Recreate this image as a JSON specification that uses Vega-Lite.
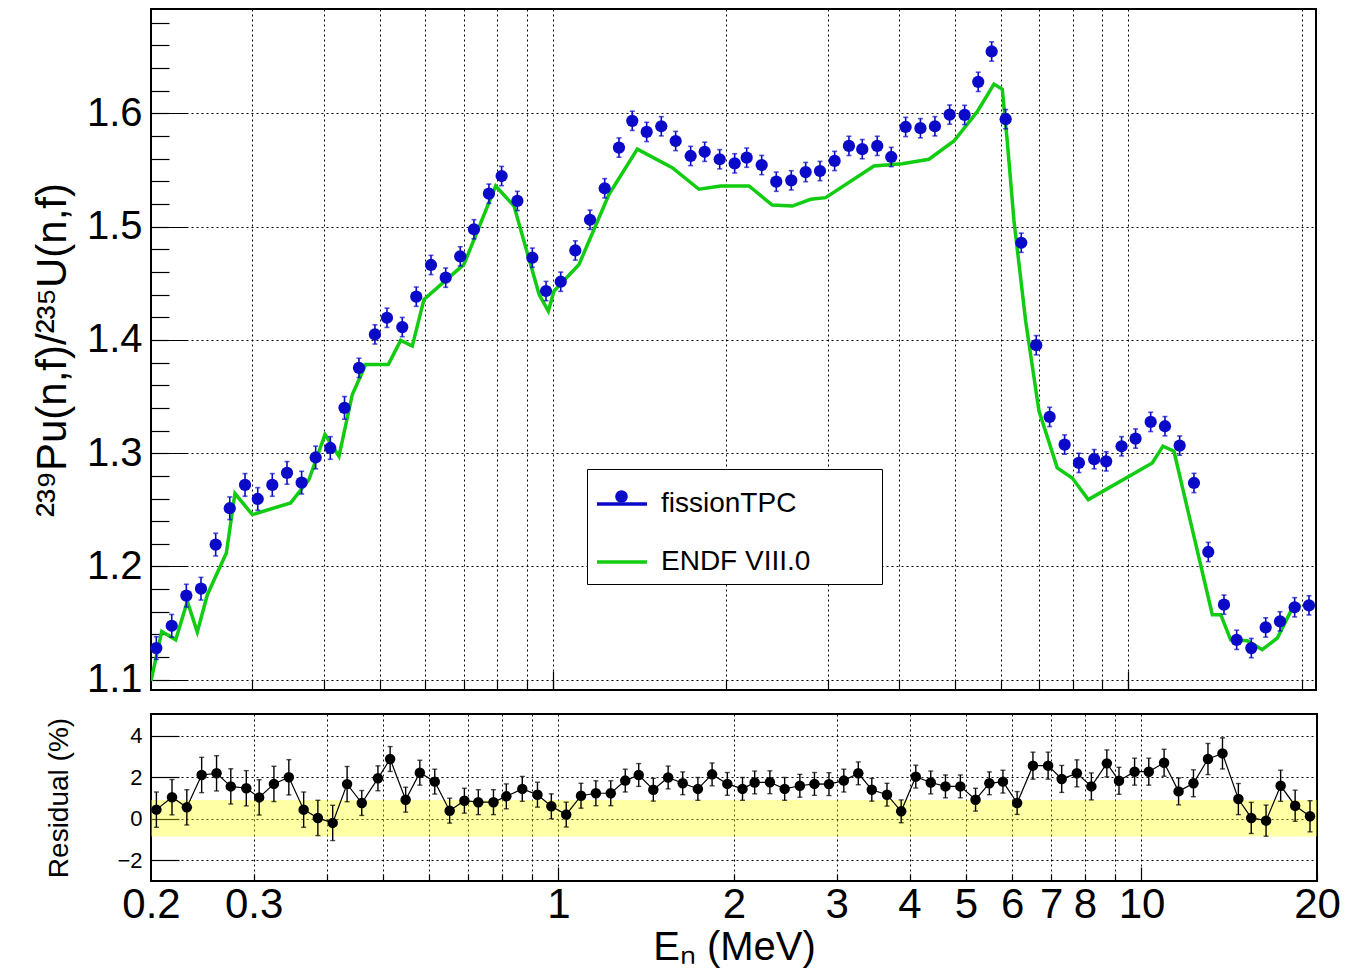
{
  "$schema": "https://vega.github.io/schema/vega-lite/v6.json",
  "background": "white",
  "padding": {"left": 30, "top": 8, "right": 5, "bottom": 0},
  "bounds": "flush",
  "spacing": 24,
  "config": {
    "font": "Liberation Sans",
    "view": {"stroke": "black", "strokeWidth": 2},
    "axis": {"domain": false, "grid": false, "gridColor": "black", "gridDash": [2, 3], "gridOpacity": 1, "gridWidth": 1, "tickColor": "black", "tickWidth": 1.2, "labelColor": "black", "titleColor": "black", "labelFont": "Liberation Sans", "titleFont": "Liberation Sans", "titleFontWeight": "normal", "labelFlush": false, "labelOverlap": false, "labelBound": false}
  },
  "datasets": {
    "tpc": [
      {"E": 0.2043, "R": 1.128, "err": 0.010, "series": "fissionTPC"},
      {"E": 0.2173, "R": 1.1477, "err": 0.010, "series": "fissionTPC"},
      {"E": 0.2304, "R": 1.1743, "err": 0.010, "series": "fissionTPC"},
      {"E": 0.2443, "R": 1.1804, "err": 0.010, "series": "fissionTPC"},
      {"E": 0.2591, "R": 1.2193, "err": 0.010, "series": "fissionTPC"},
      {"E": 0.2741, "R": 1.2514, "err": 0.010, "series": "fissionTPC"},
      {"E": 0.2914, "R": 1.272, "err": 0.010, "series": "fissionTPC"},
      {"E": 0.3066, "R": 1.2596, "err": 0.010, "series": "fissionTPC"},
      {"E": 0.325, "R": 1.272, "err": 0.010, "series": "fissionTPC"},
      {"E": 0.3447, "R": 1.2826, "err": 0.010, "series": "fissionTPC"},
      {"E": 0.3655, "R": 1.274, "err": 0.010, "series": "fissionTPC"},
      {"E": 0.3866, "R": 1.2962, "err": 0.010, "series": "fissionTPC"},
      {"E": 0.4099, "R": 1.3046, "err": 0.010, "series": "fissionTPC"},
      {"E": 0.4339, "R": 1.34, "err": 0.010, "series": "fissionTPC"},
      {"E": 0.4598, "R": 1.3753, "err": 0.0085, "series": "fissionTPC"},
      {"E": 0.4901, "R": 1.4048, "err": 0.0085, "series": "fissionTPC"},
      {"E": 0.5143, "R": 1.4195, "err": 0.0085, "series": "fissionTPC"},
      {"E": 0.5468, "R": 1.4113, "err": 0.0085, "series": "fissionTPC"},
      {"E": 0.5783, "R": 1.4381, "err": 0.0085, "series": "fissionTPC"},
      {"E": 0.6134, "R": 1.4661, "err": 0.0085, "series": "fissionTPC"},
      {"E": 0.6506, "R": 1.4549, "err": 0.0085, "series": "fissionTPC"},
      {"E": 0.6896, "R": 1.4737, "err": 0.0085, "series": "fissionTPC"},
      {"E": 0.7285, "R": 1.4976, "err": 0.0085, "series": "fissionTPC"},
      {"E": 0.7735, "R": 1.529, "err": 0.0085, "series": "fissionTPC"},
      {"E": 0.8138, "R": 1.5446, "err": 0.0085, "series": "fissionTPC"},
      {"E": 0.8667, "R": 1.5226, "err": 0.0085, "series": "fissionTPC"},
      {"E": 0.9203, "R": 1.4725, "err": 0.0085, "series": "fissionTPC"},
      {"E": 0.9721, "R": 1.4431, "err": 0.0085, "series": "fissionTPC"},
      {"E": 1.031, "R": 1.4513, "err": 0.0085, "series": "fissionTPC"},
      {"E": 1.093, "R": 1.4789, "err": 0.0085, "series": "fissionTPC"},
      {"E": 1.1591, "R": 1.506, "err": 0.0085, "series": "fissionTPC"},
      {"E": 1.2293, "R": 1.5338, "err": 0.0085, "series": "fissionTPC"},
      {"E": 1.3017, "R": 1.5697, "err": 0.0085, "series": "fissionTPC"},
      {"E": 1.3728, "R": 1.5933, "err": 0.0085, "series": "fissionTPC"},
      {"E": 1.4543, "R": 1.5835, "err": 0.0085, "series": "fissionTPC"},
      {"E": 1.5419, "R": 1.5885, "err": 0.0085, "series": "fissionTPC"},
      {"E": 1.6333, "R": 1.5755, "err": 0.0085, "series": "fissionTPC"},
      {"E": 1.7342, "R": 1.5623, "err": 0.0085, "series": "fissionTPC"},
      {"E": 1.8342, "R": 1.566, "err": 0.0085, "series": "fissionTPC"},
      {"E": 1.9479, "R": 1.5594, "err": 0.0085, "series": "fissionTPC"},
      {"E": 2.0684, "R": 1.5558, "err": 0.0085, "series": "fissionTPC"},
      {"E": 2.1702, "R": 1.5608, "err": 0.0085, "series": "fissionTPC"},
      {"E": 2.3046, "R": 1.5543, "err": 0.0085, "series": "fissionTPC"},
      {"E": 2.443, "R": 1.5396, "err": 0.0085, "series": "fissionTPC"},
      {"E": 2.5942, "R": 1.5408, "err": 0.0085, "series": "fissionTPC"},
      {"E": 2.748, "R": 1.5481, "err": 0.0085, "series": "fissionTPC"},
      {"E": 2.9102, "R": 1.549, "err": 0.0085, "series": "fissionTPC"},
      {"E": 3.086, "R": 1.5579, "err": 0.0085, "series": "fissionTPC"},
      {"E": 3.2676, "R": 1.5712, "err": 0.0085, "series": "fissionTPC"},
      {"E": 3.4468, "R": 1.5683, "err": 0.0085, "series": "fissionTPC"},
      {"E": 3.6598, "R": 1.5712, "err": 0.0085, "series": "fissionTPC"},
      {"E": 3.8708, "R": 1.5614, "err": 0.0085, "series": "fissionTPC"},
      {"E": 4.1004, "R": 1.5879, "err": 0.0085, "series": "fissionTPC"},
      {"E": 4.3504, "R": 1.5868, "err": 0.0085, "series": "fissionTPC"},
      {"E": 4.6104, "R": 1.5885, "err": 0.0085, "series": "fissionTPC"},
      {"E": 4.8896, "R": 1.5988, "err": 0.0085, "series": "fissionTPC"},
      {"E": 5.1924, "R": 1.5985, "err": 0.0085, "series": "fissionTPC"},
      {"E": 5.483, "R": 1.6277, "err": 0.0085, "series": "fissionTPC"},
      {"E": 5.7854, "R": 1.6545, "err": 0.0085, "series": "fissionTPC"},
      {"E": 6.1188, "R": 1.5948, "err": 0.0085, "series": "fissionTPC"},
      {"E": 6.5132, "R": 1.4857, "err": 0.0085, "series": "fissionTPC"},
      {"E": 6.9156, "R": 1.3953, "err": 0.0085, "series": "fissionTPC"},
      {"E": 7.2968, "R": 1.332, "err": 0.0085, "series": "fissionTPC"},
      {"E": 7.7476, "R": 1.3076, "err": 0.0085, "series": "fissionTPC"},
      {"E": 8.2038, "R": 1.2914, "err": 0.0085, "series": "fissionTPC"},
      {"E": 8.721, "R": 1.2947, "err": 0.0085, "series": "fissionTPC"},
      {"E": 9.1494, "R": 1.2928, "err": 0.0085, "series": "fissionTPC"},
      {"E": 9.731, "R": 1.3061, "err": 0.0085, "series": "fissionTPC"},
      {"E": 10.292, "R": 1.3129, "err": 0.0085, "series": "fissionTPC"},
      {"E": 10.933, "R": 1.3276, "err": 0.0085, "series": "fissionTPC"},
      {"E": 11.577, "R": 1.3238, "err": 0.0085, "series": "fissionTPC"},
      {"E": 12.278, "R": 1.3067, "err": 0.0085, "series": "fissionTPC"},
      {"E": 13.002, "R": 1.2737, "err": 0.0085, "series": "fissionTPC"},
      {"E": 13.769, "R": 1.2128, "err": 0.0085, "series": "fissionTPC"},
      {"E": 14.661, "R": 1.1663, "err": 0.0085, "series": "fissionTPC"},
      {"E": 15.426, "R": 1.1353, "err": 0.0085, "series": "fissionTPC"},
      {"E": 16.355, "R": 1.128, "err": 0.0085, "series": "fissionTPC"},
      {"E": 17.325, "R": 1.1462, "err": 0.0085, "series": "fissionTPC"},
      {"E": 18.346, "R": 1.1516, "err": 0.0085, "series": "fissionTPC"},
      {"E": 19.455, "R": 1.164, "err": 0.0085, "series": "fissionTPC"},
      {"E": 20.602, "R": 1.1657, "err": 0.0085, "series": "fissionTPC"}
    ],
    "endf": [
      {"E": 0.2, "R": 1.099, "series": "ENDF VIII.0"},
      {"E": 0.2088, "R": 1.1427, "series": "ENDF VIII.0"},
      {"E": 0.2208, "R": 1.1353, "series": "ENDF VIII.0"},
      {"E": 0.2313, "R": 1.1693, "series": "ENDF VIII.0"},
      {"E": 0.2407, "R": 1.1421, "series": "ENDF VIII.0"},
      {"E": 0.2506, "R": 1.1751, "series": "ENDF VIII.0"},
      {"E": 0.2704, "R": 1.2119, "series": "ENDF VIII.0"},
      {"E": 0.2799, "R": 1.2644, "series": "ENDF VIII.0"},
      {"E": 0.3, "R": 1.2458, "series": "ENDF VIII.0"},
      {"E": 0.3498, "R": 1.2561, "series": "ENDF VIII.0"},
      {"E": 0.3764, "R": 1.2768, "series": "ENDF VIII.0"},
      {"E": 0.4013, "R": 1.3165, "series": "ENDF VIII.0"},
      {"E": 0.4244, "R": 1.2973, "series": "ENDF VIII.0"},
      {"E": 0.4477, "R": 1.3518, "series": "ENDF VIII.0"},
      {"E": 0.4723, "R": 1.3783, "series": "ENDF VIII.0"},
      {"E": 0.517, "R": 1.3783, "series": "ENDF VIII.0"},
      {"E": 0.5433, "R": 1.3995, "series": "ENDF VIII.0"},
      {"E": 0.5691, "R": 1.3945, "series": "ENDF VIII.0"},
      {"E": 0.5964, "R": 1.4357, "series": "ENDF VIII.0"},
      {"E": 0.6998, "R": 1.4666, "series": "ENDF VIII.0"},
      {"E": 0.7946, "R": 1.5358, "series": "ENDF VIII.0"},
      {"E": 0.8552, "R": 1.5181, "series": "ENDF VIII.0"},
      {"E": 0.9453, "R": 1.4402, "series": "ENDF VIII.0"},
      {"E": 0.9811, "R": 1.4254, "series": "ENDF VIII.0"},
      {"E": 1.0035, "R": 1.4431, "series": "ENDF VIII.0"},
      {"E": 1.1093, "R": 1.4666, "series": "ENDF VIII.0"},
      {"E": 1.2016, "R": 1.5078, "series": "ENDF VIII.0"},
      {"E": 1.2507, "R": 1.5285, "series": "ENDF VIII.0"},
      {"E": 1.4009, "R": 1.5683, "series": "ENDF VIII.0"},
      {"E": 1.611, "R": 1.552, "series": "ENDF VIII.0"},
      {"E": 1.7929, "R": 1.5329, "series": "ENDF VIII.0"},
      {"E": 1.9556, "R": 1.5358, "series": "ENDF VIII.0"},
      {"E": 2.1902, "R": 1.5358, "series": "ENDF VIII.0"},
      {"E": 2.4042, "R": 1.519, "series": "ENDF VIII.0"},
      {"E": 2.6044, "R": 1.5181, "series": "ENDF VIII.0"},
      {"E": 2.8038, "R": 1.5241, "series": "ENDF VIII.0"},
      {"E": 2.977, "R": 1.5255, "series": "ENDF VIII.0"},
      {"E": 3.6118, "R": 1.5535, "series": "ENDF VIII.0"},
      {"E": 4.0452, "R": 1.5555, "series": "ENDF VIII.0"},
      {"E": 4.5008, "R": 1.5594, "series": "ENDF VIII.0"},
      {"E": 4.9754, "R": 1.5755, "series": "ENDF VIII.0"},
      {"E": 5.4608, "R": 1.6014, "series": "ENDF VIII.0"},
      {"E": 5.8392, "R": 1.6257, "series": "ENDF VIII.0"},
      {"E": 6.0372, "R": 1.6212, "series": "ENDF VIII.0"},
      {"E": 6.158, "R": 1.5755, "series": "ENDF VIII.0"},
      {"E": 6.3264, "R": 1.5049, "series": "ENDF VIII.0"},
      {"E": 6.6296, "R": 1.4165, "series": "ENDF VIII.0"},
      {"E": 6.9924, "R": 1.3371, "series": "ENDF VIII.0"},
      {"E": 7.5226, "R": 1.287, "series": "ENDF VIII.0"},
      {"E": 7.9862, "R": 1.2781, "series": "ENDF VIII.0"},
      {"E": 8.518, "R": 1.259, "series": "ENDF VIII.0"},
      {"E": 11.004, "R": 1.2914, "series": "ENDF VIII.0"},
      {"E": 11.484, "R": 1.3062, "series": "ENDF VIII.0"},
      {"E": 12.001, "R": 1.3017, "series": "ENDF VIII.0"},
      {"E": 13.993, "R": 1.1575, "series": "ENDF VIII.0"},
      {"E": 14.47, "R": 1.1575, "series": "ENDF VIII.0"},
      {"E": 15.062, "R": 1.1353, "series": "ENDF VIII.0"},
      {"E": 16.097, "R": 1.1344, "series": "ENDF VIII.0"},
      {"E": 17.091, "R": 1.1266, "series": "ENDF VIII.0"},
      {"E": 18.15, "R": 1.1369, "series": "ENDF VIII.0"},
      {"E": 19.148, "R": 1.1604, "series": "ENDF VIII.0"},
      {"E": 19.932, "R": 1.1663, "series": "ENDF VIII.0"}
    ],
    "res": [
      {"E": 0.2043, "D": 0.44, "err": 0.85},
      {"E": 0.2173, "D": 1.04, "err": 0.85},
      {"E": 0.2304, "D": 0.55, "err": 0.85},
      {"E": 0.2443, "D": 2.11, "err": 0.85},
      {"E": 0.2591, "D": 2.19, "err": 0.85},
      {"E": 0.2741, "D": 1.56, "err": 0.85},
      {"E": 0.2914, "D": 1.47, "err": 0.85},
      {"E": 0.3066, "D": 1.03, "err": 0.85},
      {"E": 0.325, "D": 1.68, "err": 0.85},
      {"E": 0.3447, "D": 2.0, "err": 0.85},
      {"E": 0.3655, "D": 0.44, "err": 0.85},
      {"E": 0.3866, "D": 0.04, "err": 0.85},
      {"E": 0.4099, "D": -0.2, "err": 0.85},
      {"E": 0.4339, "D": 1.67, "err": 0.85},
      {"E": 0.4598, "D": 0.76, "err": 0.6},
      {"E": 0.4901, "D": 1.95, "err": 0.6},
      {"E": 0.5143, "D": 2.88, "err": 0.6},
      {"E": 0.5468, "D": 0.92, "err": 0.6},
      {"E": 0.5783, "D": 2.22, "err": 0.6},
      {"E": 0.6134, "D": 1.79, "err": 0.6},
      {"E": 0.6506, "D": 0.39, "err": 0.6},
      {"E": 0.6896, "D": 0.87, "err": 0.6},
      {"E": 0.7285, "D": 0.8, "err": 0.6},
      {"E": 0.7735, "D": 0.8, "err": 0.6},
      {"E": 0.8138, "D": 1.08, "err": 0.6},
      {"E": 0.8667, "D": 1.44, "err": 0.6},
      {"E": 0.9203, "D": 1.16, "err": 0.6},
      {"E": 0.9721, "D": 0.6, "err": 0.6},
      {"E": 1.031, "D": 0.2, "err": 0.6},
      {"E": 1.093, "D": 1.11, "err": 0.6},
      {"E": 1.1591, "D": 1.23, "err": 0.6},
      {"E": 1.2293, "D": 1.23, "err": 0.6},
      {"E": 1.3017, "D": 1.84, "err": 0.55},
      {"E": 1.3728, "D": 2.11, "err": 0.55},
      {"E": 1.4543, "D": 1.4, "err": 0.55},
      {"E": 1.5419, "D": 1.99, "err": 0.55},
      {"E": 1.6333, "D": 1.71, "err": 0.55},
      {"E": 1.7342, "D": 1.44, "err": 0.55},
      {"E": 1.8342, "D": 2.14, "err": 0.55},
      {"E": 1.9479, "D": 1.68, "err": 0.55},
      {"E": 2.0684, "D": 1.44, "err": 0.55},
      {"E": 2.1702, "D": 1.75, "err": 0.55},
      {"E": 2.3046, "D": 1.76, "err": 0.55},
      {"E": 2.443, "D": 1.44, "err": 0.55},
      {"E": 2.5942, "D": 1.59, "err": 0.55},
      {"E": 2.748, "D": 1.68, "err": 0.55},
      {"E": 2.9102, "D": 1.67, "err": 0.55},
      {"E": 3.086, "D": 1.84, "err": 0.55},
      {"E": 3.2676, "D": 2.19, "err": 0.55},
      {"E": 3.4468, "D": 1.4, "err": 0.55},
      {"E": 3.6598, "D": 1.16, "err": 0.55},
      {"E": 3.8708, "D": 0.36, "err": 0.55},
      {"E": 4.1004, "D": 2.03, "err": 0.55},
      {"E": 4.3504, "D": 1.75, "err": 0.55},
      {"E": 4.6104, "D": 1.56, "err": 0.55},
      {"E": 4.8896, "D": 1.56, "err": 0.55},
      {"E": 5.1924, "D": 0.92, "err": 0.55},
      {"E": 5.483, "D": 1.71, "err": 0.55},
      {"E": 5.7854, "D": 1.79, "err": 0.55},
      {"E": 6.1188, "D": 0.76, "err": 0.55},
      {"E": 6.5132, "D": 2.56, "err": 0.65},
      {"E": 6.9156, "D": 2.56, "err": 0.65},
      {"E": 7.2968, "D": 1.92, "err": 0.65},
      {"E": 7.7476, "D": 2.19, "err": 0.65},
      {"E": 8.2038, "D": 1.56, "err": 0.65},
      {"E": 8.721, "D": 2.67, "err": 0.65},
      {"E": 9.1494, "D": 1.83, "err": 0.65},
      {"E": 9.731, "D": 2.27, "err": 0.65},
      {"E": 10.292, "D": 2.27, "err": 0.65},
      {"E": 10.933, "D": 2.7, "err": 0.65},
      {"E": 11.577, "D": 1.32, "err": 0.65},
      {"E": 12.278, "D": 1.71, "err": 0.65},
      {"E": 13.002, "D": 2.88, "err": 0.75},
      {"E": 13.769, "D": 3.15, "err": 0.75},
      {"E": 14.661, "D": 0.95, "err": 0.75},
      {"E": 15.426, "D": 0.04, "err": 0.75},
      {"E": 16.355, "D": -0.09, "err": 0.75},
      {"E": 17.325, "D": 1.59, "err": 0.75},
      {"E": 18.346, "D": 0.63, "err": 0.75},
      {"E": 19.455, "D": 0.12, "err": 0.75}
    ],
    "band": [
      {"E": 0.2, "lo": -0.85, "hi": 0.9},
      {"E": 20, "lo": -0.85, "hi": 0.9}
    ]
  },
  "vconcat": [
    {
      "width": 1165,
      "height": 681,
      "resolve": {"axis": {"x": "independent", "y": "independent"}},
      "layer": [
        {
          "data": {"name": "endf"},
          "mark": {"type": "line", "strokeWidth": 3.5, "clip": true},
          "encoding": {
            "x": {"field": "E", "type": "quantitative", "scale": {"type": "log", "domain": [0.2, 21.19], "nice": false},
                  "axis": {"orient": "bottom", "title": null, "labels": false, "grid": true, "ticks": true, "tickSize": -10, "values": [0.3, 0.4, 0.5, 0.6, 0.7, 0.8, 0.9, 1, 2, 3, 4, 5, 6, 7, 8, 9, 10, 20]}},
            "y": {"field": "R", "type": "quantitative", "scale": {"domain": [1.091, 1.692], "nice": false, "zero": false},
                  "axis": {"orient": "left", "values": [1.1, 1.2, 1.3, 1.4, 1.5, 1.6], "format": ".1f", "grid": true, "ticks": false, "labelPadding": 9, "labelFontSize": 40, "title": "²³⁹Pu(n,f)/²³⁵U(n,f)", "titleFontSize": 42, "titlePadding": 12}},
            "color": {
              "field": "series", "type": "nominal",
              "scale": {"domain": ["fissionTPC", "ENDF VIII.0"], "range": ["#0a0ac8", "#11cc11"]},
              "legend": {
                "orient": "none", "legendX": 436, "legendY": 460, "title": null,
                "fillColor": "white", "strokeColor": "black",
                "padding": 8, "rowPadding": 17, "labelFontSize": 28, "labelFont": "Liberation Sans", "labelColor": "black",
                "labelOffset": 12, "labelLimit": 400, "symbolSize": 2500, "symbolType": "stroke", "symbolStrokeWidth": 3.5,
                "labelExpr": "datum.label + '\u2800\u2800\u2800'"
              }
            }
          }
        },
        {
          "data": {"name": "tpc"},
          "mark": {"type": "errorbar", "ticks": true, "color": "#0a0ac8", "thickness": 1.6},
          "encoding": {
            "x": {"field": "E", "type": "quantitative", "axis": {"orient": "bottom", "title": null, "labels": false, "grid": false, "tickSize": -19, "values": [1, 10]}},
            "y": {"field": "R", "type": "quantitative", "axis": {"orient": "left", "title": null, "labels": false, "grid": false, "tickSize": -36, "values": [1.1, 1.2, 1.3, 1.4, 1.5, 1.6]}},
            "yError": {"field": "err"}
          }
        },
        {
          "data": {"name": "tpc"},
          "mark": {"type": "point", "filled": true, "size": 150, "opacity": 1, "color": "#0a0ac8"},
          "encoding": {
            "x": {"field": "E", "type": "quantitative", "axis": null},
            "y": {"field": "R", "type": "quantitative", "axis": {"orient": "left", "title": null, "labels": false, "grid": false, "tickSize": -18, "values": [1.1, 1.12, 1.14, 1.16, 1.18, 1.2, 1.22, 1.24, 1.26, 1.28, 1.3, 1.32, 1.34, 1.36, 1.38, 1.4, 1.42, 1.44, 1.46, 1.48, 1.5, 1.52, 1.54, 1.56, 1.58, 1.6, 1.62, 1.64, 1.66, 1.68]}},
            "shape": {
              "field": "series", "type": "nominal",
              "scale": {"domain": ["fissionTPC"], "range": ["circle"]},
              "legend": {"orient": "none", "legendX": 463, "legendY": 480, "title": null, "labelExpr": "''", "symbolSize": 160, "padding": 0, "labelFontSize": 10, "labelOffset": 0}
            }
          }
        }
      ]
    },
    {
      "width": 1166,
      "height": 167,
      "resolve": {"axis": {"x": "independent", "y": "independent"}},
      "layer": [
        {
          "data": {"name": "band"},
          "mark": {"type": "area", "color": "#ffff00", "opacity": 0.35},
          "encoding": {
            "x": {"field": "E", "type": "quantitative", "scale": {"type": "log", "domain": [0.2, 20], "nice": false},
                  "axis": {"orient": "bottom", "title": "Eₙ (MeV)", "values": [0.2, 0.3, 0.4, 0.5, 0.6, 0.7, 0.8, 0.9, 1, 2, 3, 4, 5, 6, 7, 8, 9, 10, 20], "format": "~g",
                           "labelExpr": "indexof([0.2, 0.3, 1, 2, 3, 4, 5, 6, 7, 8, 10, 20], datum.value) >= 0 ? datum.label : ''",
                           "grid": true, "ticks": false, "labelPadding": 3, "labelFontSize": 42, "titleFontSize": 40, "titlePadding": 2}},
            "y": {"field": "lo", "type": "quantitative", "scale": {"domain": [-3, 5.05], "nice": false, "zero": false},
                  "axis": {"orient": "left", "values": [-2, 0, 2, 4], "grid": true, "ticks": false, "labelPadding": 9, "labelFontSize": 22, "title": "Residual (%)", "titleFontSize": 28, "titlePadding": 43}},
            "y2": {"field": "hi"}
          }
        },
        {
          "data": {"name": "res"},
          "mark": {"type": "line", "color": "black", "strokeWidth": 1.2},
          "encoding": {
            "x": {"field": "E", "type": "quantitative", "axis": {"orient": "bottom", "title": null, "labels": false, "grid": false, "tickSize": -7, "values": [0.3, 0.4, 0.5, 0.6, 0.7, 0.8, 0.9, 2, 3, 4, 5, 6, 7, 8, 9, 20]}},
            "y": {"field": "D", "type": "quantitative", "axis": {"orient": "left", "title": null, "labels": false, "grid": false, "tickSize": -28, "values": [-2, 0, 2, 4]}}
          }
        },
        {
          "data": {"name": "res"},
          "mark": {"type": "errorbar", "ticks": true, "color": "black", "thickness": 1.4},
          "encoding": {
            "x": {"field": "E", "type": "quantitative", "axis": {"orient": "bottom", "title": null, "labels": false, "grid": false, "tickSize": -14, "values": [1, 10]}},
            "y": {"field": "D", "type": "quantitative", "axis": null},
            "yError": {"field": "err"}
          }
        },
        {
          "data": {"name": "res"},
          "mark": {"type": "point", "filled": true, "shape": "circle", "size": 110, "color": "black", "opacity": 1},
          "encoding": {
            "x": {"field": "E", "type": "quantitative", "axis": null},
            "y": {"field": "D", "type": "quantitative", "axis": null}
          }
        }
      ]
    }
  ]
}
